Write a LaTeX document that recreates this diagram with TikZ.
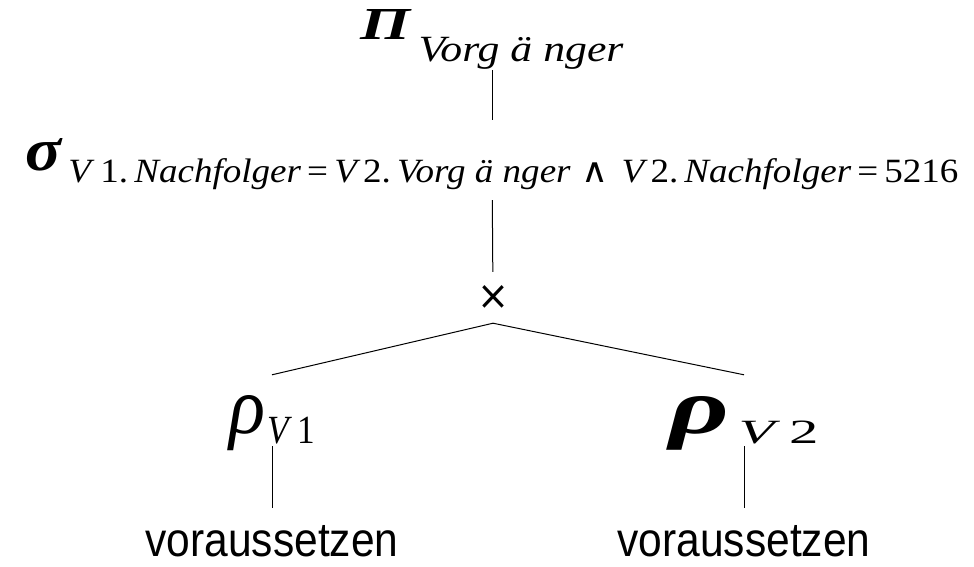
\documentclass[tikz,border=0pt]{standalone}
\usepackage{fontspec}
\setmainfont{Liberation Serif}
\newfontfamily\leaffont{Liberation Sans}
\newfontfamily\opfont{DejaVu Sans}
\usetikzlibrary{positioning}

% stretch a piece to a width, keeping its height
\newcommand{\fitw}[2]{\resizebox{#1}{\height}{#2}}
\newcommand{\fitwh}[3]{\resizebox{#1}{#2}{#3}}
\newcommand{\fs}[1]{\fontsize{#1}{#1}\selectfont}

\begin{document}
\begin{tikzpicture}[x=1pt,y=-1pt,
lbl/.style={inner sep=0pt,anchor=base},
leaf/.style={inner sep=0pt,anchor=base,text height=48pt,font=\fs{48}\leaffont},
edge/.style={line width=1pt}]
\useasboundingbox (0,0) rectangle (974,567);

\node[lbl,text height=30pt,text depth=30pt] (proj) at (492,40)
  {\fitwh{50pt}{30pt}{\fs{40}\bfseries\itshape Π}\hspace{8pt}%
   \raisebox{-22pt}{\fitw{205pt}{\fs{37}\itshape Vorg ä nger}}};
\node[lbl,text height=51pt,text depth=29pt] (sel) at (492,171)
  {\fitwh{36pt}{32pt}{\fs{50}\bfseries\itshape σ}\hspace{7pt}%
   \raisebox{-12pt}{\fitw{890pt}{\fs{34}\itshape V\upshape~1.\,\itshape Nachfolger\upshape\,=\,\itshape V\upshape\,2.\,\itshape Vorg ä nger\upshape\hspace{10pt}{\opfont\fs{34}∧}\hspace{12pt}\itshape V\upshape\,2.\,\itshape Nachfolger\upshape\,=\,5216}}};
\node[inner sep=0pt,minimum height=51pt] (prod) at (493,297.5)
  {\fitwh{32pt}{24pt}{\opfont\fs{40}×}};
\node[lbl,text height=58pt,text depth=13pt] (ren1) at (272,433)
  {\fitwh{36pt}{38pt}{\fs{70}\itshape ρ}\hspace{2pt}%
   \raisebox{-10pt}{\fitw{48pt}{\fs{40}\itshape V\upshape~1}}};
\node[lbl,text height=58pt,text depth=13pt] (ren2) at (744,433)
  {\fitwh{60pt}{37pt}{\fs{70}\bfseries\itshape ρ}\hspace{9pt}%
   \raisebox{-10pt}{\fitw{80pt}{\fs{34}\itshape V\upshape~2}}};
\node[leaf] (tab1) at (272,556) {\fitw{253pt}{voraussetzen}};
\node[leaf] (tab2) at (744,556) {\fitw{253pt}{voraussetzen}};

\draw[edge] (proj) -- (sel);
\draw[edge] (sel) -- (prod);
\draw[edge] (prod.south) -- (ren1.north);
\draw[edge] (prod.south) -- (ren2.north);
\draw[edge] (ren1.south) -- (tab1.north);
\draw[edge] (ren2.south) -- (tab2.north);
\end{tikzpicture}
\end{document}
